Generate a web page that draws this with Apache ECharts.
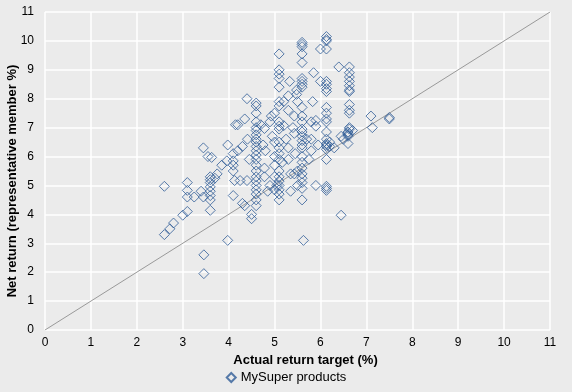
<!DOCTYPE html>
<html>
<head>
<meta charset="utf-8">
<script src="https://cdn.jsdelivr.net/npm/echarts@6/dist/echarts.min.js"></script>
<style>html,body{margin:0;padding:0;background:#ebebeb;}#c{width:572px;height:392px;}</style>
</head>
<body>
<div id="c"></div>
<script>
const seriesName = 'MySuper products';
const xAxisTitle = 'Actual return target (%)';
const yAxisTitle = 'Net return (representative member %)';
const axisTicks = [0,1,2,3,4,5,6,7,8,9,10,11];
const parityLine = [[0,0],[11,11]];
// [actual return target, net return]
const products = [
[2.6,4.97],[2.6,3.3],[2.72,3.5],[2.8,3.7],[3.0,3.97],[3.1,4.1],[3.1,5.1],[3.1,4.83],[3.1,4.6],[3.25,4.6],
[3.4,4.8],[3.45,4.6],[3.45,6.3],[3.46,2.6],[3.46,1.95],[3.55,6.0],[3.63,5.97],[3.6,5.3],[3.6,5.2],[3.6,5.1],
[3.6,4.95],[3.6,4.8],[3.6,4.65],[3.6,4.5],[3.6,4.14],[3.7,5.25],[3.75,5.4],[3.85,5.7],[3.96,5.85],[3.98,6.4],
[3.98,3.1],[4.1,5.85],[4.1,5.7],[4.1,5.5],[4.13,5.17],[4.1,4.65],[4.1,6.1],[4.15,7.1],[4.2,7.1],[4.2,6.2],
[4.25,5.17],[4.3,6.35],[4.3,4.38],[4.35,7.3],[4.35,4.3],[4.4,8.0],[4.41,6.6],[4.4,5.17],[4.45,5.9],[4.5,4.0],[4.5,3.85],
[4.6,7.85],[4.6,7.75],[4.6,7.5],[4.6,7.2],[4.6,7.0],[4.6,6.9],[4.6,6.75],[4.6,6.6],[4.6,6.5],[4.6,6.35],
[4.6,6.2],[4.6,6.05],[4.6,5.9],[4.6,5.7],[4.6,5.5],[4.6,5.3],[4.6,5.15],[4.6,5.0],[4.6,4.85],[4.6,4.7],[4.6,4.5],[4.6,4.3],
[4.78,6.97],[4.78,5.6],[4.78,5.3],[4.8,6.2],[4.85,4.8],[4.9,7.2],[4.93,7.4],[4.9,5.0],[4.95,6.7],[5.0,7.5],
[5.0,6.5],[5.0,6.0],[5.0,5.7],[5.0,5.3],[5.05,5.0],[5.0,4.85],[4.7,7.1],[4.75,6.4],
[5.1,9.55],[5.1,9.0],[5.1,8.85],[5.1,8.7],[5.1,8.4],[5.1,7.9],[5.1,7.75],[5.1,7.2],[5.1,7.05],[5.1,6.95],
[5.1,6.5],[5.1,6.3],[5.1,6.1],[5.1,5.9],[5.1,5.5],[5.1,5.3],[5.1,5.15],[5.1,5.0],[5.1,4.85],[5.1,4.7],[5.1,4.5],
[5.17,5.8],[5.2,7.07],[5.2,7.9],[5.25,6.6],[5.33,8.6],[5.3,8.1],[5.3,7.6],[5.3,6.3],[5.3,5.9],[5.35,4.8],
[5.35,5.4],[5.43,7.4],[5.43,6.8],[5.43,5.4],[5.45,6.1],[5.48,8.3],[5.48,8.15],[5.5,7.9],[5.5,5.5],[5.5,5.0],[5.4,7.0],
[5.6,9.95],[5.6,9.88],[5.6,9.8],[5.6,9.55],[5.6,9.25],[5.6,8.7],[5.6,8.6],[5.6,8.5],[5.6,8.4],[5.6,7.7],
[5.6,7.4],[5.6,7.2],[5.6,6.95],[5.6,6.85],[5.6,6.7],[5.6,6.55],[5.6,6.4],[5.6,6.3],[5.6,6.0],[5.6,5.8],
[5.6,5.6],[5.6,5.4],[5.6,5.25],[5.6,5.1],[5.6,4.9],[5.6,4.5],[5.63,3.1],
[5.7,6.6],[5.75,5.9],[5.8,6.2],[5.8,6.6],[5.83,7.9],[5.8,7.2],[5.85,8.9],[5.9,7.25],[5.9,7.05],[5.9,5.0],
[5.95,6.4],[6.0,9.72],[6.0,8.6],
[6.13,10.15],[6.13,10.05],[6.13,10.0],[6.13,9.72],[6.13,8.6],[6.13,8.5],[6.13,8.35],[6.13,8.25],[6.13,7.7],[6.13,7.5],
[6.13,7.3],[6.13,7.2],[6.13,6.85],[6.13,6.6],[6.13,6.45],[6.13,6.4],[6.13,6.35],[6.13,6.25],[6.13,5.9],[6.13,4.97],
[6.13,4.9],[6.13,4.83],
[6.2,6.5],[6.2,6.35],[6.3,6.3],[6.4,9.1],[6.45,6.7],[6.45,3.97],[6.5,6.6],
[6.63,9.1],[6.63,8.9],[6.63,8.75],[6.63,8.6],[6.63,8.45],[6.63,8.3],[6.63,8.25],[6.63,7.8],[6.63,7.6],[6.63,7.5],
[6.63,7.0],[6.63,6.95],[6.6,6.85],[6.6,6.8],[6.6,6.75],[6.6,6.7],[6.6,6.45],[6.7,6.9],
[7.1,7.4],[7.13,7.0],[7.5,7.35],[7.5,7.3]
];

const FONT = 'Liberation Sans';
const chart = echarts.init(document.getElementById('c'), null, {renderer:'canvas'});
const axisCommon = {
  type: 'value', min: axisTicks[0], max: axisTicks[axisTicks.length-1], interval: 1,
  axisLine: {show:false}, axisTick: {show:false},
  splitLine: {show:true, lineStyle:{color:'#ffffff', width:1.5}},
  axisLabel: {color:'#000', fontSize:12, fontFamily:FONT},
  nameLocation: 'middle', nameMoveOverlap: false
};
const nameStyle = {color:'#000', fontSize:13, fontWeight:'bold', fontFamily:FONT};
chart.setOption({
  backgroundColor: '#ebebeb',
  animation: false,
  grid: {left:45, right:22, top:12, bottom:62, containLabel:false, outerBoundsMode:'none'},
  xAxis: Object.assign({}, axisCommon, {name: xAxisTitle, nameGap: 24,
    nameTextStyle: Object.assign({}, nameStyle, {padding:[0,0,0,16]}),
    axisLabel: Object.assign({}, axisCommon.axisLabel, {margin: 7})}),
  yAxis: Object.assign({}, axisCommon, {name: yAxisTitle, nameGap: 26,
    nameTextStyle: Object.assign({}, nameStyle, {padding:[0,20,0,0]}),
    axisLabel: Object.assign({}, axisCommon.axisLabel, {margin: 11})}),
  legend: {
    data: [{name: seriesName, icon: 'diamond'}],
    bottom: 3, left: 'center', itemWidth: 9, itemHeight: 9, itemGap: 6,
    textStyle: {color:'#000', fontSize:13, fontFamily:FONT}
  },
  series: [
    {type:'line', data: parityLine, symbol:'none', silent:true,
     lineStyle:{color:'#999999', width:1}, z:1},
    {type:'scatter', name: seriesName, data: products, symbol:'diamond', symbolSize:[10,10],
     itemStyle:{color:'rgba(0,0,0,0)', borderColor:'#2f5c97', borderWidth:1}, z:2}
  ]
});
</script>
</body>
</html>
